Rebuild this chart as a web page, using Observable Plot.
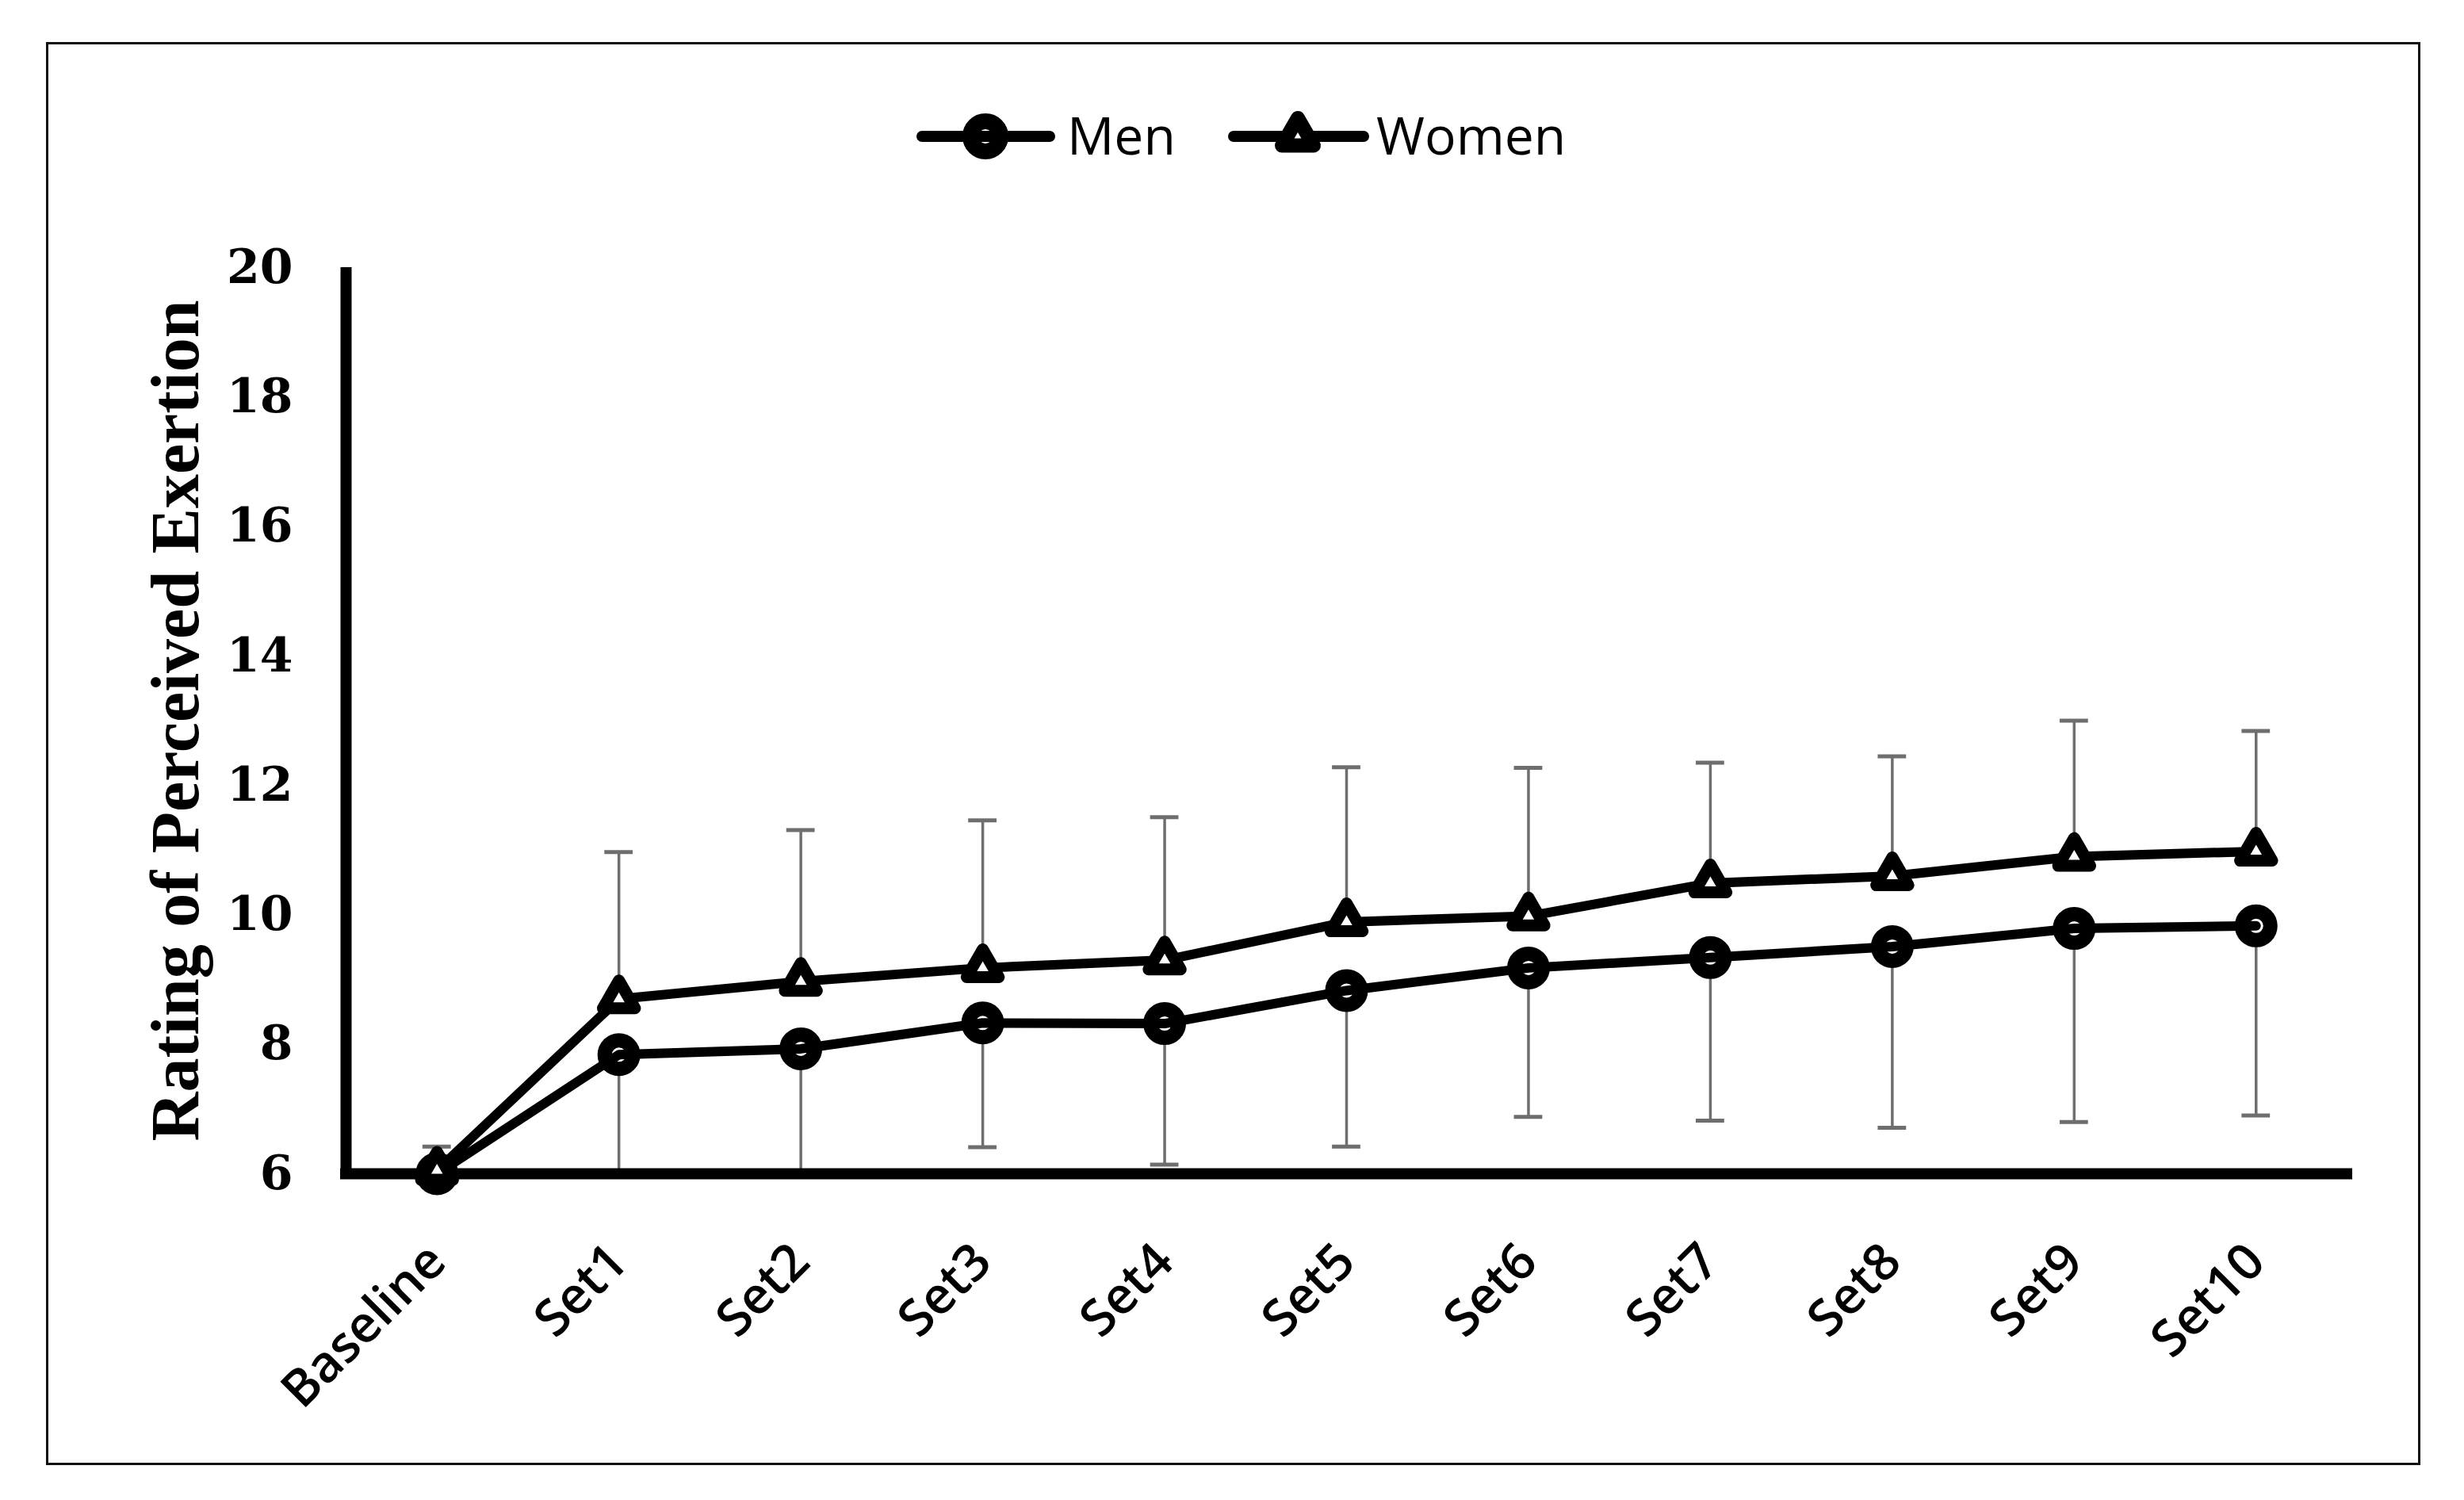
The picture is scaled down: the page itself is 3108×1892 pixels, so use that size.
<!DOCTYPE html>
<html><head><meta charset="utf-8">
<script src="https://cdn.jsdelivr.net/npm/d3@7"></script>
<script src="https://cdn.jsdelivr.net/npm/@observablehq/plot@0.6"></script>
<style>
html,body{margin:0;padding:0;background:#fff;width:3108px;height:1892px;overflow:hidden}
#frame{position:absolute;left:58px;top:53px;width:2995px;height:1795px;border:3px solid #111;box-sizing:border-box}
#legend{position:absolute;left:0;top:122px}
#chart{position:absolute;left:0;top:250px}
</style></head><body>
<div id="frame"></div>
<div id="legend"></div>
<div id="chart"></div>
<script>
const categories = ["Baseline","Set1","Set2","Set3","Set4","Set5","Set6","Set7","Set8","Set9","Set10"];
const menMean    = [6.0, 7.84, 7.93, 8.33, 8.32, 8.83, 9.18, 9.34, 9.51, 9.79, 9.83];
const womenMean  = [6.05, 8.70, 8.97, 9.18, 9.30, 9.89, 9.98, 10.49, 10.60, 10.90, 10.98];
const womenUpper = [6.42, 10.97, 11.31, 11.46, 11.51, 12.28, 12.27, 12.35, 12.45, 13.0, 12.84];
const menLower   = [6.0, 6.0, 6.04, 6.41, 6.14, 6.42, 6.88, 6.82, 6.71, 6.80, 6.90];
const seriesNames = ["Men","Women"];
const yTicks = [6, 8, 10, 12, 14, 16, 18, 20];
const yLabel = "Rating of Perceived Exertion";

const rows = categories.map((c, i) => ({i, c, men: menMean[i], women: womenMean[i], wu: womenUpper[i], ml: menLower[i]}));
const capHalf = 0.078;
const errColor = "#6e6e6e";

const plot = Plot.plot({
  width: 3108, height: 1642,
  marginLeft: 436, marginRight: 148, marginTop: 87, marginBottom: 412,
  x: {type: "linear", domain: [-0.5, categories.length - 0.5]},
  y: {domain: [6, 20]},
  style: {background: "transparent", overflow: "visible"},
  marks: [
    Plot.ruleX(rows, {x: "i", y1: "women", y2: "wu", stroke: errColor, strokeWidth: 3.5}),
    Plot.ruleY(rows, {y: "wu", x1: d => d.i - capHalf, x2: d => d.i + capHalf, stroke: errColor, strokeWidth: 5}),
    Plot.ruleX(rows, {x: "i", y1: "ml", y2: "men", stroke: errColor, strokeWidth: 3.5}),
    Plot.ruleY(rows, {y: "ml", x1: d => d.i - capHalf, x2: d => d.i + capHalf, stroke: errColor, strokeWidth: 5}),
    Plot.ruleY([6], {stroke: "#000", strokeWidth: 14, strokeLinecap: "square"}),
    Plot.ruleX([-0.5], {y1: 6, y2: 20, stroke: "#000", strokeWidth: 14}),
    Plot.dot(rows, {x: "i", y: "men", symbol: "circle", r: 18, fill: "white", stroke: "#000", strokeWidth: 18}),
    Plot.lineY(rows, {x: "i", y: "men", stroke: "#000", strokeWidth: 12, strokeLinejoin: "round"}),
    Plot.lineY(rows, {x: "i", y: "women", stroke: "#000", strokeWidth: 12, strokeLinejoin: "round"}),
    Plot.dot(rows, {x: "i", y: "women", symbol: "triangle", r: 15, fill: "white", stroke: "#000", strokeWidth: 15, strokeLinejoin: "round"}),
    Plot.axisY({ticks: yTicks, tickSize: 0, tickPadding: 67, fontFamily: "DejaVu Serif", fontWeight: "bold", fontSize: 60, label: null}),
    Plot.axisX({ticks: d3.range(categories.length), tickFormat: i => categories[i], tickSize: 0, tickRotate: -45, tickPadding: 100, fontFamily: "Open Sans", fontWeight: 600, fontSize: 64, label: null}),
    Plot.text([yLabel], {text: d => d, frameAnchor: "left", textAnchor: "middle", lineAnchor: "middle", rotate: -90, dx: -214, fontFamily: "Liberation Serif", fontWeight: "bold", fontSize: 86, fill: "#000"})
  ]
});
document.getElementById("chart").appendChild(plot);

// legend
const leg = d3.select("#legend").append("svg").attr("width", 3108).attr("height", 100)
  .style("font-family", "Open Sans").style("font-size", "66px");
const cy = 50;
// Men
leg.append("circle").attr("cx", 1243).attr("cy", cy).attr("r", 19).attr("fill", "white").attr("stroke", "#000").attr("stroke-width", 20);
leg.append("line").attr("x1", 1163).attr("x2", 1324).attr("y1", cy).attr("y2", cy).attr("stroke", "#000").attr("stroke-width", 14).attr("stroke-linecap", "round");
leg.append("text").attr("x", 1346).attr("y", cy + 23).text(seriesNames[0]);
// Women
leg.append("line").attr("x1", 1556).attr("x2", 1720).attr("y1", cy).attr("y2", cy).attr("stroke", "#000").attr("stroke-width", 14).attr("stroke-linecap", "round");
leg.append("path").attr("transform", `translate(1637,${cy})`).attr("d", d3.symbol(d3.symbolTriangle, 693)())
  .attr("fill", "white").attr("stroke", "#000").attr("stroke-width", 18).attr("stroke-linejoin", "round");
leg.append("text").attr("x", 1736).attr("y", cy + 23).text(seriesNames[1]);
</script>
</body></html>
